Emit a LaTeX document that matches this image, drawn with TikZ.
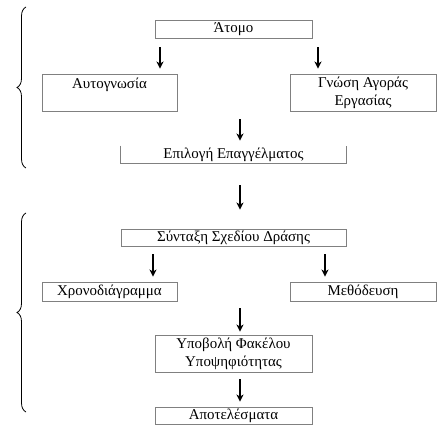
\documentclass[tikz,border=0pt]{standalone}
\usepackage{fontspec}
\setmainfont{Liberation Serif}
\usetikzlibrary{arrows.meta,decorations.pathreplacing}
\definecolor{planEdge}{HTML}{808080}
\tikzset{
  plan/.style={draw=planEdge,line width=0.9bp,align=center,inner sep=1bp,
               font=\fontsize{15}{18}\selectfont},
  planopen/.style={plan,draw=none},
  planflow/.style={-{Stealth[length=7bp,width=7bp,inset=2bp]},line width=1.2bp},
  planbrace/.style={decorate,decoration={brace,amplitude=9bp,aspect=0.5},line width=0.8bp},
}
\begin{document}
\begin{tikzpicture}[x=1bp,y=-1bp]
  \useasboundingbox (0,0) rectangle (448,434);
  \node[plan,minimum width=157bp,minimum height=18bp] (AT) at (233.5,29)  {Άτομο};
  \node[plan,minimum width=135bp,minimum height=37bp] (AU) at (109.5,92.5) {Αυτογνωσία\\~};
  \node[plan,minimum width=146bp,minimum height=37bp] (GN) at (363,92.5)   {Γνώση Αγοράς\\Εργασίας};
  \node[planopen,minimum width=225bp,minimum height=17bp] (EP) at (233.5,154.5) {Επιλογή Επαγγέλματος};
  \node[plan,minimum width=225bp,minimum height=17bp] (SY) at (233.5,237.5) {Σύνταξη Σχεδίου Δράσης};
  \node[plan,minimum width=135bp,minimum height=19bp] (XR) at (109.5,291.5) {Χρονοδιάγραμμα};
  \node[plan,minimum width=146bp,minimum height=19bp] (ME) at (363,291.5)   {Μεθόδευση};
  \node[plan,minimum width=157bp,minimum height=37bp] (YP) at (233.5,353.5) {Υποβολή Φακέλου\\Υποψηφιότητας};
  \node[plan,minimum width=157bp,minimum height=17bp] (AP) at (233.5,415.5) {Αποτελέσματα};
  \draw[draw=planEdge,line width=0.9bp] (EP.north west) |- (EP.south east) -- (EP.north east);

  % arrow columns
  \coordinate (xl) at (160,0);
  \coordinate (xr) at (318,0);
  \coordinate (xm) at (240,0);
  \coordinate (xlb) at (153,0);
  \coordinate (xrb) at (325,0);
  \foreach \a/\b/\c/\s/\e in {AT/AU/xl/9/5,AT/GN/xr/9/5,AU/EP/xm/8/5,EP/SY/xm/22/19,
                              SY/XR/xlb/8/5,SY/ME/xrb/8/5,XR/YP/xm/7/3,YP/AP/xm/7/5}{
    \draw[planflow,shorten <=\s bp,shorten >=\e bp] (\a.south -| \c) -- (\b.north -| \c);}

  \draw[planbrace] (26,168) -- (26,7);
  \draw[planbrace] (26,412) -- (26,213);
\end{tikzpicture}
\end{document}
